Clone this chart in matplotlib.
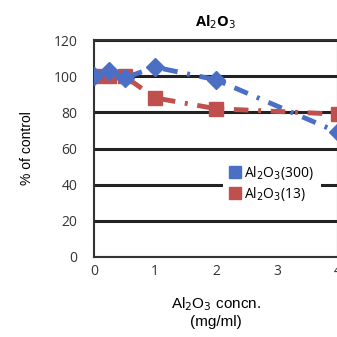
import matplotlib

matplotlib.use("Agg")
import matplotlib.pyplot as plt

# concentration (mg/ml) and % of control
conc = [0, 0.25, 0.5, 1, 2, 4]
al2o3_300 = [100, 103, 99, 105, 98, 69]
al2o3_13 = [100, 100, 100, 88, 82, 79]

series_labels = ["Al$_2$O$_3$(300)", "Al$_2$O$_3$(13)"]
yticks = [0, 20, 40, 60, 80, 100, 120]
xticks = [0, 1, 2, 3, 4]

plt.rcParams["font.family"] = ["Open Sans", "DejaVu Sans"]

fig = plt.figure(figsize=(3.37, 3.37), dpi=100)
ax = fig.add_axes([94 / 337, 80 / 337, 244 / 337, 217 / 337])

blue = "#4a6fc4"
red = "#c0504d"

ax.plot(conc, al2o3_300, color=blue, linestyle=(0, (3, 2, 0.6, 2)), linewidth=3.5,
        marker="D", markersize=9, label=series_labels[0], zorder=3)
ax.plot(conc, al2o3_13, color=red, linestyle=(0, (3, 2, 0.6, 2)), linewidth=3.5,
        marker="s", markersize=10, label=series_labels[1], zorder=2)

ax.set_xlim(0, 4)
ax.set_ylim(0, 120)
ax.set_xticks(xticks)
ax.set_yticks(yticks)
ax.yaxis.grid(True, color="#222222", linewidth=2.2)
ax.set_axisbelow(True)
for sp in ax.spines.values():
    sp.set_linewidth(1.5)
    sp.set_color("#333333")
ax.tick_params(length=0, labelsize=10, colors="#333333", pad=12)
ax.tick_params(axis="x", pad=5)

ax.set_title("Al$_2$O$_3$", fontsize=10.5, fontweight="bold", pad=10)
ax.set_ylabel("% of control", fontsize=10, family=["Liberation Sans"], labelpad=14)
ax.set_xlabel("Al$_2$O$_3$ concn.\n(mg/ml)", fontsize=11, family=["Liberation Sans"],
              labelpad=12, linespacing=1.15)

leg = ax.legend(loc="center left", bbox_to_anchor=(0.5, 0.34), frameon=True,
                fancybox=False, edgecolor="none", framealpha=1,
                handlelength=0.8, handletextpad=0.2, borderpad=0.5,
                labelspacing=0.2, fontsize=10)
for h in leg.legend_handles:
    h.set_linestyle("none")
    h.set_marker("s")
    h.set_markersize(8)

fig.savefig("out.png", dpi=100)
